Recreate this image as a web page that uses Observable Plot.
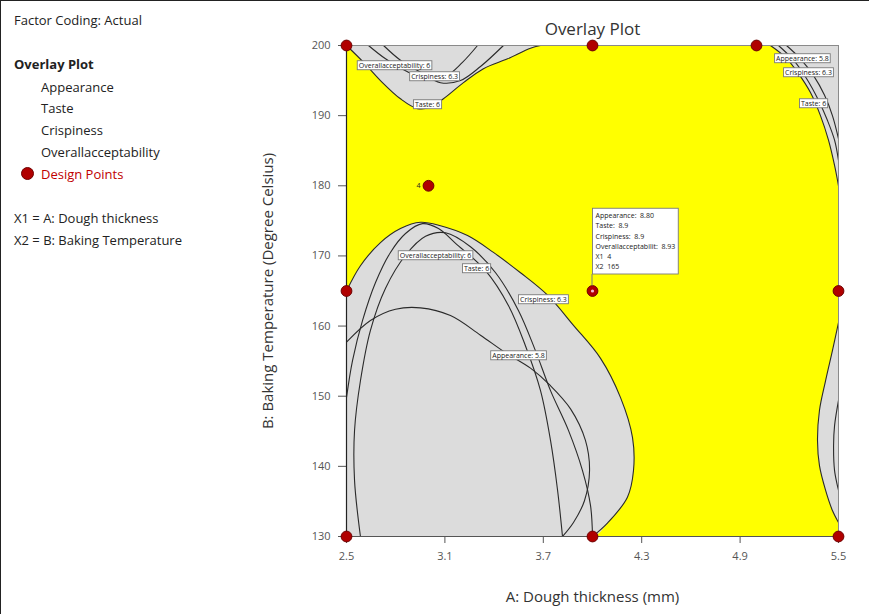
<!DOCTYPE html>
<html>
<head>
<meta charset="utf-8">
<script src="https://cdn.jsdelivr.net/npm/d3@7"></script>
<script src="https://cdn.jsdelivr.net/npm/@observablehq/plot@0.6"></script>
<style>
  html, body { margin: 0; padding: 0; background: #fff; }
  #page { position: relative; width: 869px; height: 614px; overflow: hidden; font-family: "Open Sans", sans-serif; }
  #border { position: absolute; left: 0; top: 0; width: 869px; height: 614px; box-sizing: border-box;
            border-top: 1.5px solid #222; border-left: 1.5px solid #222; pointer-events: none; }
  #chart { position: absolute; left: 0; top: 0; }
  .side { position: absolute; font-size: 13px; color: #222; line-height: 18px; white-space: nowrap; }
  .side.b { font-weight: 700; }
  .side.red { color: #c00000; }
  .marker { position: absolute; width: 13px; height: 13px; border-radius: 50%; background: #b00000;
            border: 1px solid #700000; box-sizing: border-box; }
</style>
</head>
<body>
<div id="page">
  <div id="chart"></div>
  <div class="side" style="left:14px; top:11px">Factor Coding: Actual</div>
  <div class="side b" style="left:14px; top:55px">Overlay Plot</div>
  <div class="side" style="left:41px; top:78px">Appearance</div>
  <div class="side" style="left:41px; top:99px">Taste</div>
  <div class="side" style="left:41px; top:121px">Crispiness</div>
  <div class="side" style="left:41px; top:143px">Overallacceptability</div>
  <div class="marker" style="left:21px; top:167px"></div>
  <div class="side red" style="left:41px; top:165px">Design Points</div>
  <div class="side" style="left:14px; top:209px">X1 = A: Dough thickness</div>
  <div class="side" style="left:14px; top:231px">X2 = B: Baking Temperature</div>
  <div id="border"></div>
</div>
<script>
// Factor ranges and axis ticks
const xDomain = [2.5, 5.5];   // A: Dough thickness (mm)
const yDomain = [130, 200];   // B: Baking Temperature (°C)
const xTicks = [2.5, 3.1, 3.7, 4.3, 4.9, 5.5];
const yTicks = [130, 140, 150, 160, 170, 180, 190, 200];

// Design points of the experiment
const designX = [2.5, 4, 5, 3, 2.5, 4, 5.5, 2.5, 4, 5.5];
const designY = [200, 200, 200, 180, 165, 165, 165, 130, 130, 130];
const designReps = ["", "", "", "4", "", "", "", "", "", ""];

// Contour curves (A, B) of the response limits
// upper-left corner
const tasteTopLeft = [[2.5,200],[2.604,197.6],[2.707,195.0],[2.829,192.4],[2.933,191.0],[3.012,191.2],[3.091,192.4],[3.213,194.7],[3.335,196.7],[3.482,198.1],[3.622,199.6],[3.683,200]];
const overallTopLeft = [[2.634,200],[2.738,198.1],[2.86,196.4],[2.982,195.3],[3.104,195.6],[3.207,197.6],[3.299,200]];
const crispTopLeft = [[2.726,200],[2.829,197.9],[2.951,196.2],[3.073,194.7],[3.195,195.0],[3.317,197.0],[3.457,200]];
// upper-right corner
const tasteTopRight = [[5.085,200],[5.177,198.3],[5.256,196.0],[5.329,193.3],[5.39,190.0],[5.439,186.5],[5.476,182.9],[5.5,180.0]];
const crispTopRight = [[5.134,200],[5.226,197.9],[5.305,195.3],[5.378,192.2],[5.433,189.3],[5.476,186.5],[5.5,183.6]];
const appearTopRight = [[5.183,200],[5.268,198.1],[5.348,195.7],[5.415,192.9],[5.463,190.0],[5.5,186.7]];
// right edge lobe
const lobeRight = [[5.5,160.5],[5.463,156.5],[5.421,152.2],[5.384,148.0],[5.372,143.7],[5.384,140.1],[5.421,136.6],[5.463,133.7],[5.5,132.0]];
const lobeRightInner = [[5.5,149.4],[5.476,145.8],[5.47,143.0],[5.476,139.4],[5.5,136.6]];
// lower-left region
const crispLowLeft = [[2.5,165.0],[2.585,168.6],[2.707,171.9],[2.829,173.9],[2.951,174.8],[3.073,174.3],[3.238,172.9],[3.396,170.5],[3.561,167.6],[3.726,164.4],[3.884,160.1],[4.049,155.4],[4.171,149.8],[4.244,144.1],[4.25,139.4],[4.213,135.6],[4.091,131.9],[4.0,130]];
const overallLowLeft = [[2.5,149.8],[2.537,155.1],[2.598,160.8],[2.677,166.2],[2.768,170.5],[2.86,173.2],[2.963,174.6],[3.061,173.9],[3.165,171.8],[3.348,167.9],[3.488,162.9],[3.591,157.2],[3.683,150.8],[3.744,143.7],[3.787,136.6],[3.817,130]];
const tasteLowLeft = [[2.585,130],[2.549,138.0],[2.549,145.1],[2.585,152.2],[2.646,159.4],[2.738,165.4],[2.86,170.1],[2.982,172.8],[3.104,173.3],[3.256,171.3],[3.409,167.6],[3.549,162.2],[3.652,156.5],[3.744,150.8],[3.854,145.1],[3.939,139.4],[3.988,134.4],[4.0,130]];
const appearLowLeft = [[2.5,157.7],[2.646,160.8],[2.799,162.4],[2.951,162.6],[3.134,161.5],[3.317,158.7],[3.47,156.2],[3.622,154.0],[3.744,151.5],[3.866,148.2],[3.957,143.7],[3.982,139.4],[3.951,135.1],[3.884,132.0],[3.817,130]];

// Contour labels
const labelText = ["Overallacceptability: 6", "Crispiness: 6.3", "Taste: 6",
                   "Appearance: 5.8", "Crispiness: 6.3", "Taste: 6",
                   "Overallacceptability: 6", "Taste: 6", "Crispiness: 6.3", "Appearance: 5.8"];
const labelX = [2.793, 3.037, 2.994, 5.28, 5.317, 5.348, 3.043, 3.293, 3.701, 3.549];
const labelY = [197.15, 195.58, 191.59, 198.15, 196.15, 191.73, 170.06, 168.21, 163.79, 155.8];

// Prediction flag at a chosen design point
const flagPoint = {x: 4, y: 165};
const flagLines = ["Appearance:  8.80", "Taste:  8.9", "Crispiness:  8.9", "Overallacceptabilit:  8.93", "X1  4", "X2  165"];

const pts = arr => arr.map(([x, y]) => ({x, y}));
const corner = (x, y) => ({x, y});

const design = designX.map((x, i) => ({x, y: designY[i], n: designReps[i]}));
const labels = labelText.map((t, i) => ({t, x: labelX[i], y: labelY[i]}));

// Grey regions that fail at least one response limit
const regionTL = pts(tasteTopLeft);
const regionTR = [...pts(tasteTopRight), corner(xDomain[1], yDomain[1])];
const regionR = pts(lobeRight);
const regionLL = [...pts(crispLowLeft), corner(xDomain[0], yDomain[0])];

const contourLines = [tasteTopLeft, overallTopLeft, crispTopLeft,
                      tasteTopRight, crispTopRight, appearTopRight,
                      lobeRight, lobeRightInner,
                      crispLowLeft, overallLowLeft, tasteLowLeft, appearLowLeft];

const GREY = "#dcdcdc";
const fillOpts = {x: "x", y: "y", fill: GREY, stroke: "none", curve: "catmull-rom", clip: true};
const lineOpts = {x: "x", y: "y", stroke: "#2a2a2a", strokeWidth: 1.1, curve: "catmull-rom", clip: true};

const chart = Plot.plot({
  width: 869,
  height: 614,
  marginLeft: 346,
  marginRight: 31,
  marginTop: 45,
  marginBottom: 78,
  style: {fontFamily: "'Open Sans', sans-serif", fontSize: "11px", color: "#555", background: "transparent", overflow: "visible"},
  x: {domain: xDomain, ticks: xTicks, tickFormat: d => d.toFixed(1), tickSize: 7, tickPadding: 9, label: null},
  y: {domain: yDomain, ticks: yTicks, tickSize: 8, tickPadding: 8, label: null},
  marks: [
    Plot.frame({fill: "#ffff00", stroke: "none"}),
    Plot.line(regionTL, fillOpts),
    Plot.line(regionTR, fillOpts),
    Plot.line(regionR, fillOpts),
    Plot.line(regionLL, fillOpts),
    ...contourLines.map(c => Plot.line(pts(c), lineOpts)),
    Plot.ruleY([yDomain[1]], {stroke: "#8a8a8a", strokeWidth: 1}),
    Plot.ruleX([xDomain[1]], {stroke: "#8a8a8a", strokeWidth: 1}),
    Plot.ruleY([yDomain[0]], {stroke: "#555", strokeWidth: 1.2}),
    Plot.ruleX([xDomain[0]], {stroke: "#222", strokeWidth: 1.2}),
    Plot.dot(design, {x: "x", y: "y", r: 5.4, fill: "#b00000", stroke: "#6e0000", strokeWidth: 1}),
    Plot.dot([flagPoint], {x: "x", y: "y", r: 1.6, fill: "#f0b8d0"}),
    Plot.text(design, {x: "x", y: "y", text: "n", dx: -10, fontSize: 7, fill: "#222"}),
    Plot.text(labels, {x: "x", y: "y", text: "t", fontSize: 7, fill: "#222", className: "clabel"}),
    Plot.text([flagPoint], {x: "x", y: "y", text: () => flagLines.map(s => s.replace(/ /g, "\u00a0")).join("\n"),
      textAnchor: "start", lineAnchor: "bottom", lineHeight: 1.45, dx: 3, dy: -22, fontSize: 7, fill: "#222", className: "flag"}),
    Plot.text(["Overlay Plot"], {frameAnchor: "top", lineAnchor: "middle", dy: -16, fontSize: 17, fill: "#333"}),
    Plot.text(["A: Dough thickness (mm)"], {frameAnchor: "bottom", dy: 65, fontSize: 15, fill: "#333"}),
    Plot.text(["B: Baking Temperature (Degree Celsius)"], {frameAnchor: "left", textAnchor: "middle", lineAnchor: "middle", dx: -78, rotate: -90, fontSize: 15, fill: "#333"})
  ]
});

document.getElementById("chart").appendChild(chart);

// White boxes behind contour labels and the prediction flag
const NS = "http://www.w3.org/2000/svg";
function boxText(sel, padX, padY) {
  const boxes = [];
  chart.querySelectorAll(sel).forEach(t => {
    const b = t.getBBox();
    const r = document.createElementNS(NS, "rect");
    r.setAttribute("x", b.x - padX);
    r.setAttribute("y", b.y - padY);
    r.setAttribute("width", b.width + 2 * padX);
    r.setAttribute("height", b.height + 2 * padY);
    r.setAttribute("fill", "#fff");
    r.setAttribute("stroke", "#7a7a7a");
    r.setAttribute("stroke-width", "0.9");
    const tr = t.getAttribute("transform");
    if (tr) r.setAttribute("transform", tr);
    t.parentNode.insertBefore(r, t);
    boxes.push(r);
  });
  return boxes;
}
boxText("g.clabel text", 1.5, 0);
const flagBox = boxText("g.flag text", 3, 3)[0];

// Stem from the flagged design point up to its box
if (flagBox) {
  const sx = chart.scale("x").apply(flagPoint.x);
  const sy = chart.scale("y").apply(flagPoint.y);
  const svgRect = chart.getBoundingClientRect();
  const br = flagBox.getBoundingClientRect();
  const stem = document.createElementNS(NS, "line");
  stem.setAttribute("x1", sx);
  stem.setAttribute("x2", sx);
  stem.setAttribute("y1", sy - 5);
  stem.setAttribute("y2", br.bottom - svgRect.top);
  stem.setAttribute("stroke", "#7a7a7a");
  stem.setAttribute("stroke-width", "1");
  const g = flagBox.parentNode;
  g.parentNode.insertBefore(stem, g);
}
</script>
</body>
</html>
